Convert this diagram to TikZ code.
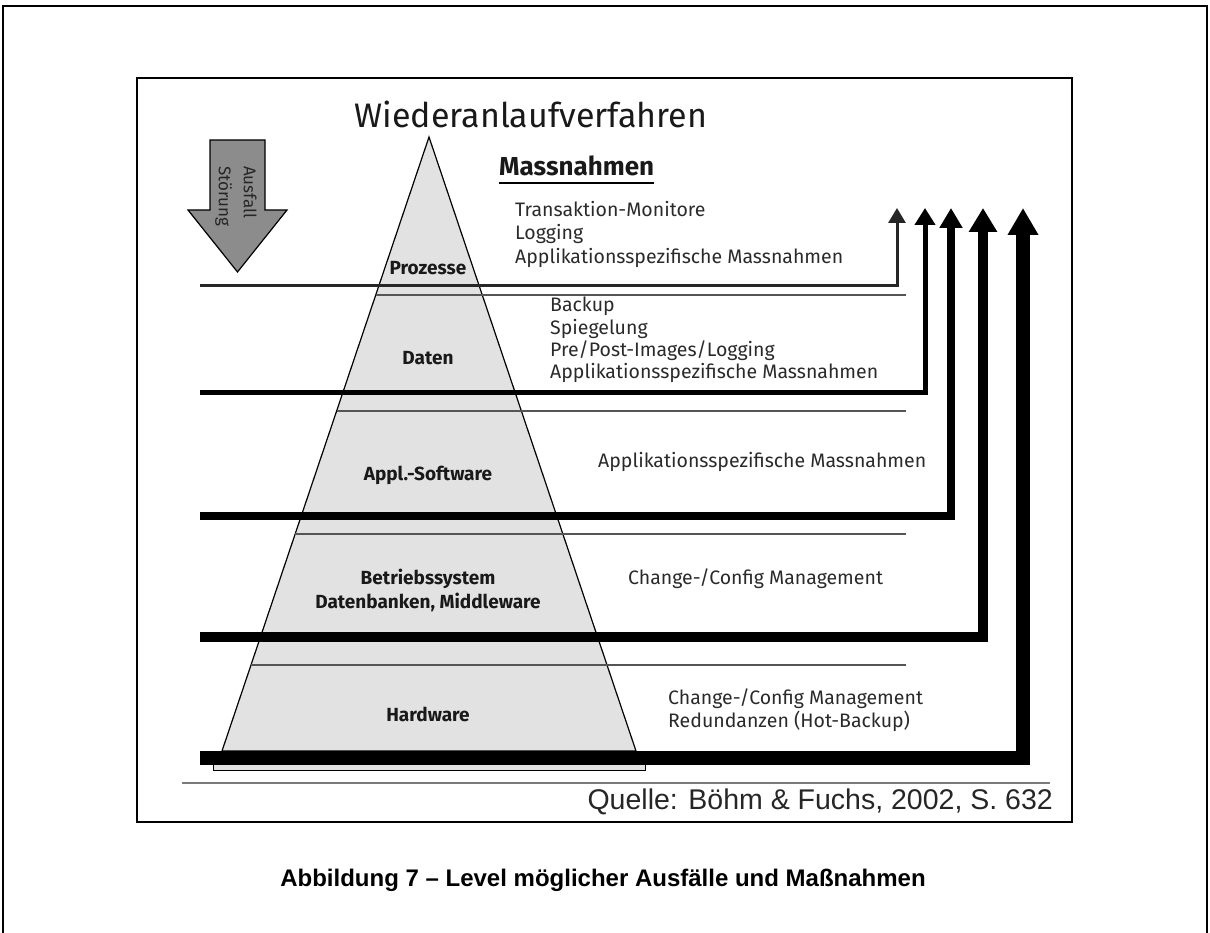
\documentclass[tikz,border=0pt]{standalone}
\usepackage{fontspec}
\setmainfont{Fira Sans}
\newfontfamily\arialfont{Liberation Sans}
\usetikzlibrary{arrows.meta,calc}

\definecolor{pyrfill}{HTML}{E2E2E2}
\definecolor{arrowfill}{HTML}{8C8C8C}
\definecolor{inktext}{HTML}{2A2A2A}
\definecolor{sepgray}{HTML}{555555}
\definecolor{baseline}{HTML}{7A7A7A}

\begin{document}
\begin{tikzpicture}[x=1pt,y=-1pt,
  frame/.style={draw=black,line width=2pt},
  measure/.style={font=\fontsize{19.5}{22}\selectfont,text=inktext,inner sep=0pt,
    anchor=west,text height=14pt,text depth=4.5pt},
  layername/.style={font=\bfseries\fontsize{19}{24}\selectfont,text=black!90,
    align=center,inner sep=0pt},
  thinsep/.style={draw=sepgray,line width=1.5pt},
  levelline/.style={draw=black,line join=miter},
]
\useasboundingbox (0,0) rectangle (1210,933);

% outer page frame (open at the bottom) and figure frame
\draw[frame] (3,933) -- (3,6) -- (1207,6) -- (1207,933);
\draw[frame] (137,78) rectangle (1072,822);

% title and heading
\node[font=\fontsize{34}{38}\selectfont,inner sep=0pt,anchor=base,text=black!90] (title) at (531,128) {Wiederanlaufverfahren};
\node[font=\fontsize{26}{30}\selectfont\bfseries,inner sep=0pt,anchor=base west,text=black!90] (mass) at (499,176) {Massnahmen};
\draw[line width=2pt] (mass.base west) ++(0,7) coordinate (ul1) -- (ul1 -| mass.east);

% failure arrow
\filldraw[fill=arrowfill,draw=black,line width=1.2pt]
  (210,140) -- (265,140) -- (265,210) -- (287,210) -- (237.5,272) -- (188,210) -- (210,210) -- cycle;
\node[rotate=-90,anchor=west,align=left,inner sep=0pt,text=black!85,
  font=\fontsize{17}{25}\selectfont] (fail) at (236,166) {Ausfall\\Störung};

% pyramid
\coordinate (apex) at (429,137);
\coordinate (bl) at (222,751);
\coordinate (br) at (636,751);
\filldraw[fill=pyrfill,draw=black,line width=1.2pt] (apex) -- (br) -- (bl) -- cycle;
\filldraw[fill=pyrfill,draw=black,line width=1pt] (213,764) rectangle (645,770);

% thin separators from the left flank of the pyramid
\coordinate (sepend) at (906,0);
\coordinate (s1) at ($(apex)!0.2573!(bl)$);
\coordinate (s2) at ($(apex)!0.4463!(bl)$);
\coordinate (s3) at ($(apex)!0.6466!(bl)$);
\coordinate (s4) at ($(apex)!0.8599!(bl)$);
\foreach \s in {s1,s2,s3,s4} \draw[thinsep] (\s) -- (\s -| sepend);

% level lines rising to the right
\coordinate (l1) at (200,286);  \coordinate (r1) at (897,208);
\coordinate (l2) at (200,392);  \coordinate (r2) at (925,208);
\coordinate (l3) at (200,516);  \coordinate (r3) at (951,208);
\coordinate (l4) at (200,637);  \coordinate (r4) at (983,208);
\coordinate (l5) at (200,758);  \coordinate (r5) at (1023,208);
\draw[levelline,draw=black!85,line width=3pt,-{Triangle[width=17pt,length=15pt]}] (l1) -| (r1);
\draw[levelline,line width=5pt,-{Triangle[width=20pt,length=17pt]}] (l2) -| (r2);
\draw[levelline,line width=8pt,-{Triangle[width=22pt,length=20pt]}] (l3) -| (r3);
\draw[levelline,line width=10pt,-{Triangle[width=27pt,length=24pt]}] (l4) -| (r4);
\draw[levelline,line width=14pt,-{Triangle[width=29pt,length=27pt]}] (l5) -| (r5);

% ground line
\coordinate (g1) at (182,783); \coordinate (g2) at (1050,783);
\draw[draw=baseline,line width=2pt] (g1) -- (g2);

% level names
\node[layername] (proz) at (428,268) {Prozesse};
\node[layername] (daten) at (428,358) {Daten};
\node[layername] (appl) at (428,475) {Appl.-Software};
\node[layername] (betr) at (428,590) {Betriebssystem\\Datenbanken, Middleware};
\node[layername] (hw) at (428,714) {Hardware};

% measures per level
\node[measure] (m11) at (515,212) {Transaktion-Monitore};
\node[measure] (m12) at (515,235) {Logging};
\node[measure] (m13) at (515,259) {Applikationsspezifische Massnahmen};
\node[measure] (m21) at (550,307) {Backup};
\node[measure] (m22) at (550,330) {Spiegelung};
\node[measure] (m23) at (550,352) {Pre/Post-Images/Logging};
\node[measure] (m24) at (550,374) {Applikationsspezifische Massnahmen};
\node[measure] (m31) at (598,463) {Applikationsspezifische Massnahmen};
\node[measure] (m41) at (628,580) {Change-/Config Management};
\node[measure] (m51) at (668,700) {Change-/Config Management};
\node[measure] (m52) at (668,723) {Redundanzen (Hot-Backup)};

% source and caption
\node[font=\arialfont\fontsize{28.5}{32}\selectfont,text=black!85,inner sep=0pt,anchor=east] (src) at (1053,802) {Quelle: Böhm \& Fuchs, 2002, S. 632};
\node[font=\arialfont\bfseries\fontsize{24}{28}\selectfont,inner sep=0pt] (cap) at (603,880) {Abbildung 7 – Level möglicher Ausfälle und Maßnahmen};
\end{tikzpicture}
\end{document}
